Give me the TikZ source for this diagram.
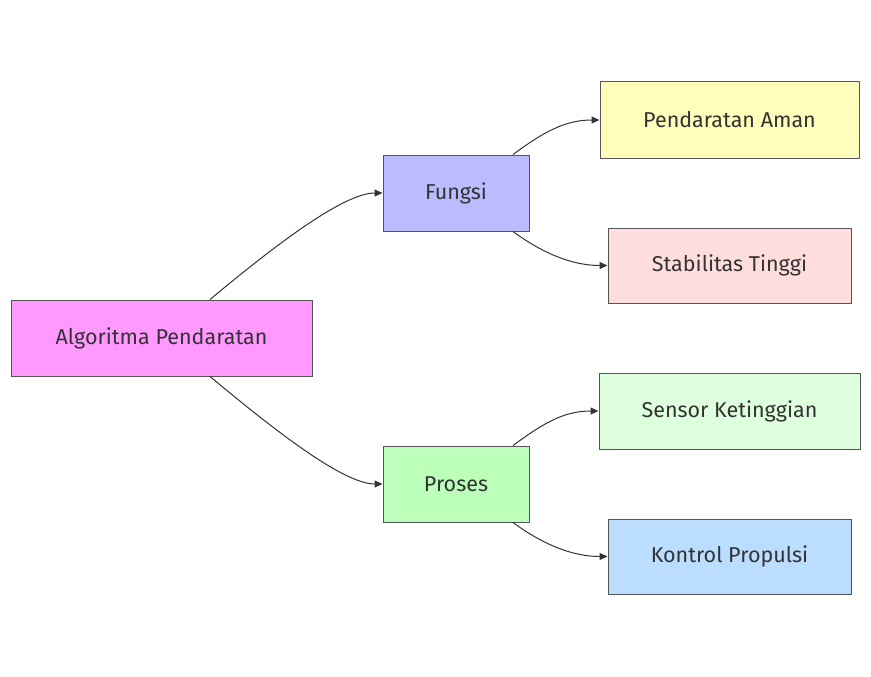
\documentclass[tikz,border=0pt]{standalone}
\usepackage{fontspec}
\setmainfont{Fira Sans}
\usetikzlibrary{arrows.meta,calc}
\definecolor{txt}{HTML}{333333}
\definecolor{bord}{HTML}{555555}
\definecolor{cAlg}{HTML}{FF99FF}
\definecolor{cFun}{HTML}{BBBBFF}
\definecolor{cPro}{HTML}{BBFFBB}
\definecolor{cAman}{HTML}{FFFFBB}
\definecolor{cStab}{HTML}{FFDDDD}
\definecolor{cSens}{HTML}{DDFFDD}
\definecolor{cKont}{HTML}{BBDDFF}
\tikzset{
  box/.style={draw=bord, line width=1pt, rectangle, inner sep=0pt, text=txt,
    font=\fontsize{21.5}{25}\selectfont, anchor=center},
  link/.style={draw=txt, line width=1pt, -{Triangle[length=8pt,width=7pt]}}
}
\begin{document}
\begin{tikzpicture}[x=1pt,y=-1pt]
\useasboundingbox (0,0) rectangle (871,677);
\node[box, fill=cAlg, minimum width=301pt, minimum height=76pt] (alg) at (161.5,338) {Algoritma Pendaratan};
\node[box, fill=cFun, minimum width=146pt, minimum height=76pt] (fun) at (456,193) {Fungsi};
\node[box, fill=cPro, minimum width=146pt, minimum height=76pt] (pro) at (456,484) {Proses};
\node[box, fill=cAman, minimum width=259pt, minimum height=76pt] (aman) at (729.5,120) {Pendaratan Aman};
\node[box, fill=cStab, minimum width=243pt, minimum height=75pt] (stab) at (729.5,265.5) {Stabilitas Tinggi};
\node[box, fill=cSens, minimum width=261pt, minimum height=76pt] (sens) at (729.5,411) {Sensor Ketinggian};
\node[box, fill=cKont, minimum width=243pt, minimum height=75pt] (kont) at (729.5,556.5) {Kontrol Propulsi};

\draw[link] ([xshift=48.5pt]alg.north) .. controls +(60,-50) and +(-40,0) .. (fun.west);
\draw[link] ([xshift=48.5pt]alg.south) .. controls +(60,50) and +(-40,0) .. (pro.west);
\draw[link] ([xshift=57pt]fun.north) .. controls +(30,-22) and +(-35,0) .. (aman.west);
\draw[link] ([xshift=57pt]fun.south) .. controls +(30,22) and +(-35,0) .. (stab.west);
\draw[link] ([xshift=57pt]pro.north) .. controls +(30,-22) and +(-35,0) .. (sens.west);
\draw[link] ([xshift=57pt]pro.south) .. controls +(30,22) and +(-35,0) .. (kont.west);
\end{tikzpicture}
\end{document}
